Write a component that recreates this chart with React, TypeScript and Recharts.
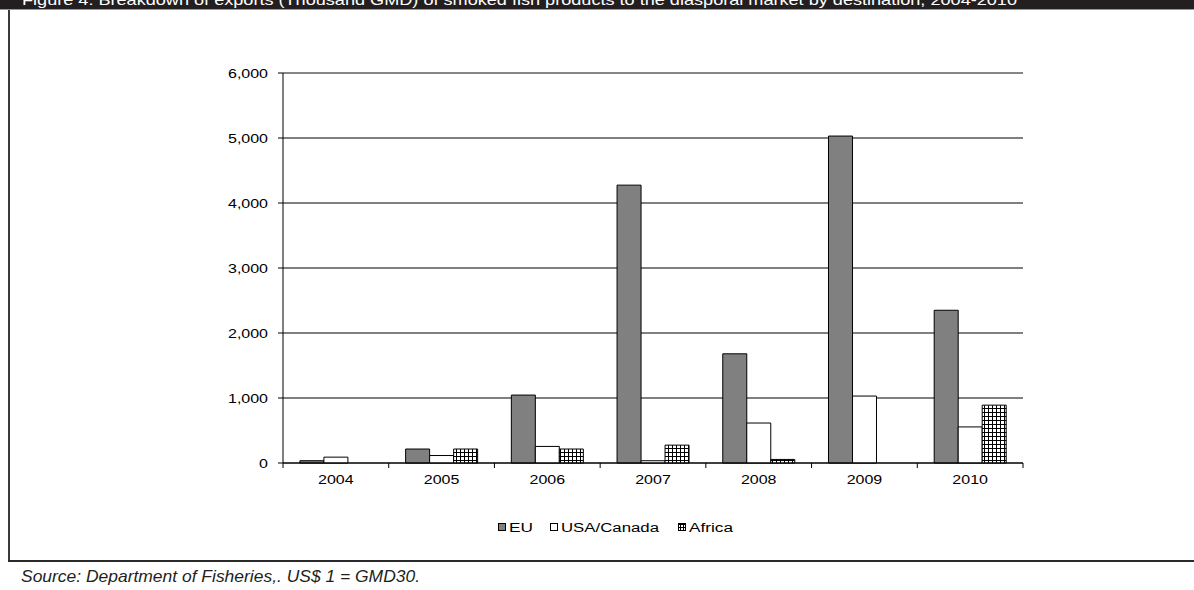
import React from "react";
import { BarChart, Bar, XAxis, YAxis, CartesianGrid, ReferenceLine } from "recharts";

const years = ["2004", "2005", "2006", "2007", "2008", "2009", "2010"];
const euValues = [35, 215, 1045, 4275, 1680, 5030, 2350];
const usaCanadaValues = [90, 115, 255, 35, 615, 1030, 555];
const africaValues = [0, 215, 215, 275, 55, 0, 890];
const yTicks = [0, 1000, 2000, 3000, 4000, 5000, 6000];

const TITLE =
  "Figure 4: Breakdown of exports (Thousand GMD) of smoked fish products to the diasporal market by destination, 2004-2010";
const SOURCE = "Source: Department of Fisheries,. US$ 1 = GMD30.";

const FONT = "'Liberation Sans', Arial, sans-serif";
const STRETCH = 1.28;
const LABEL_SIZE = 12.5;

const data = years.map((y, i) => ({
  year: y,
  eu: euValues[i],
  usa: usaCanadaValues[i],
  africa: africaValues[i],
}));

const fmt = (v: number) => v.toLocaleString("en-US");

// wide-looking labels like in the scanned figure
function YTick(props: any) {
  const { x, y, payload } = props;
  return (
    <g transform={`translate(${x - 8},${y + 4.5})`}>
      <text transform={`scale(${STRETCH},1)`} textAnchor="end" fontSize={LABEL_SIZE} fontFamily={FONT} fill="#000">
        {fmt(payload.value)}
      </text>
    </g>
  );
}

// category label plus tick marks on the category boundaries (Excel style)
function XTick(props: any) {
  const { x, y, payload, index, width, visibleTicksCount } = props;
  const half = payload.offset ? payload.offset : width / visibleTicksCount / 2;
  const last = index === visibleTicksCount - 1;
  return (
    <g>
      <line x1={x - half} x2={x - half} y1={y} y2={y + 5} stroke="#000" />
      {last && <line x1={x + half} x2={x + half} y1={y} y2={y + 5} stroke="#000" />}
      <g transform={`translate(${x},${y + 20.5})`}>
        <text transform={`scale(${STRETCH},1)`} textAnchor="middle" fontSize={LABEL_SIZE} fontFamily={FONT} fill="#000">
          {payload.value}
        </text>
      </g>
    </g>
  );
}

const legendItems = [
  { name: "EU", kind: "eu", at: 0, len: 24 },
  { name: "USA/Canada", kind: "usa", at: 52, len: 98 },
  { name: "Africa", kind: "africa", at: 180, len: 44 },
];

function LegendBox() {
  return (
    <svg width={260} height={20} style={{ position: "absolute", left: 497, top: 518 }}>
      <defs>
        <pattern id="legendGrid" width={3} height={3} patternUnits="userSpaceOnUse">
          <rect width={3} height={3} fill="#fff" />
          <path d="M0 0.5 H3 M0.5 0 V3" stroke="#000" strokeWidth={1} />
        </pattern>
      </defs>
      {legendItems.map((it) => (
        <g key={it.kind} transform={`translate(${it.at},0)`}>
          <rect
            x={1.5}
            y={5.5}
            width={7}
            height={7}
            fill={it.kind === "eu" ? "#808080" : it.kind === "africa" ? "url(#legendGrid)" : "#fff"}
            stroke="#000"
            strokeWidth={1}
          />
          <text x={12} y={13.5} fontSize={LABEL_SIZE} fontFamily={FONT} fill="#000" textLength={it.len} lengthAdjust="spacingAndGlyphs">
            {it.name}
          </text>
        </g>
      ))}
    </svg>
  );
}

export default function App() {
  return (
    <div style={{ position: "fixed", left: 0, top: 0, width: 1194, height: 590, background: "#fff", overflow: "hidden" }}>
      {/* title strip, cut off at top like the original crop */}
      <svg width={1194} height={11} style={{ position: "absolute", left: 0, top: 0 }}>
        <rect x={0} y={0} width={1194} height={9} fill="#231f20" />
        <rect x={0} y={9} width={1194} height={1} fill="#9a9a9a" />
        <text x={22} y={5} fill="#fff" fontSize={15} fontFamily={FONT} textLength={995} lengthAdjust="spacingAndGlyphs">
          {TITLE}
        </text>
      </svg>
      <div style={{ position: "absolute", left: 8, top: 10, width: 2, height: 552, background: "#3a3a3a" }} />
      <div style={{ position: "absolute", left: 8, top: 560, width: 1186, height: 2, background: "#2a2a2a" }} />

      <div style={{ position: "absolute", left: 0, top: 0 }}>
        <BarChart
          width={1194}
          height={590}
          data={data}
          margin={{ top: 73, right: 171, bottom: 97, left: 223 }}
          barCategoryGap="16%"
          barGap={0}
        >
          <defs>
            <pattern id="africaGrid" width={4} height={4} patternUnits="userSpaceOnUse">
              <rect width={4} height={4} fill="#fff" />
              <path d="M0 0.5 H4 M0.5 0 V4" stroke="#000" strokeWidth={1} />
            </pattern>
          </defs>
          <CartesianGrid vertical={false} stroke="#000" strokeWidth={1} />
          <XAxis
            dataKey="year"
            height={30}
            axisLine={{ stroke: "#000" }}
            tickLine={false}
            tickSize={0}
            tickMargin={0}
            tick={<XTick />}
            interval={0}
          />
          <YAxis
            domain={[0, 6000]}
            ticks={yTicks}
            width={60}
            axisLine={{ stroke: "#000" }}
            tickLine={{ stroke: "#000" }}
            tickSize={5}
            tick={<YTick />}
          />
          <YAxis
            yAxisId="frame"
            orientation="right"
            width={0}
            domain={[0, 6000]}
            axisLine={{ stroke: "#8c8c8c" }}
            tick={false}
            tickLine={false}
          />
          <ReferenceLine y={6000} stroke="#8c8c8c" />
          <Bar dataKey="eu" name="EU" fill="#808080" stroke="#000" strokeWidth={1} isAnimationActive={false} />
          <Bar dataKey="usa" name="USA/Canada" fill="#fff" stroke="#000" strokeWidth={1} isAnimationActive={false} />
          <Bar dataKey="africa" name="Africa" fill="url(#africaGrid)" stroke="#000" strokeWidth={1} isAnimationActive={false} />
        </BarChart>
      </div>

      <LegendBox />

      <svg width={500} height={28} style={{ position: "absolute", left: 0, top: 562 }}>
        <text x={21} y={20} fill="#231f20" fontSize={17} fontStyle="italic" fontFamily={FONT} textLength={399} lengthAdjust="spacingAndGlyphs">
          {SOURCE}
        </text>
      </svg>
    </div>
  );
}
